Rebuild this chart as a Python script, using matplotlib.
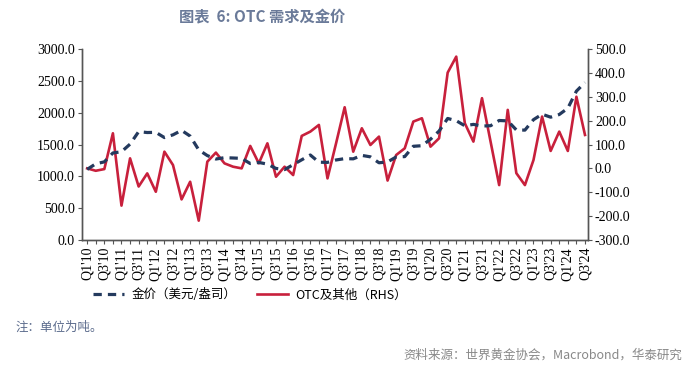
import matplotlib
matplotlib.use('Agg')
import matplotlib.pyplot as plt
import numpy as np

# quarters Q1'10 .. Q3'24
quarters = ["Q%d'%02d" % (q, y) for y in range(10, 25) for q in range(1, 5)][:59]

# gold price, USD/oz (left axis)
gold = [1109, 1197, 1227, 1367, 1386, 1506, 1702, 1688, 1691, 1609,
        1652, 1722, 1632, 1415, 1326, 1272, 1293, 1288, 1282, 1201,
        1218, 1192, 1124, 1106, 1183, 1260, 1335, 1222, 1219, 1257,
        1278, 1275, 1329, 1306, 1213, 1226, 1304, 1310, 1472, 1481,
        1583, 1711, 1909, 1874, 1794, 1816, 1790, 1795, 1877, 1871,
        1729, 1726, 1890, 1976, 1929, 1971, 2070, 2338, 2474]

# OTC and other, tonnes (right axis)
otc = [0, -10, -3, 147, -156, 42, -76, -21, -98, 70,
       14, -130, -56, -219, 28, 66, 21, 7, 0, 94,
       21, 105, -35, 7, -28, 136, 154, 182, -42, 105,
       256, 70, 168, 98, 133, -51, 56, 84, 196, 210,
       91, 126, 401, 468, 189, 112, 294, 112, -70, 245,
       -20, -70, 35, 217, 73, 154, 73, 300, 140]

navy = '#243a5e'
red = '#c8203c'
serif = 'Liberation Serif'
cjk = ['Noto Sans CJK SC', 'DejaVu Sans']

fig = plt.figure(figsize=(7, 3.76), dpi=100)
ax = fig.add_axes([82/700, 1-240/376, (588-82)/700, (240-49)/376])
ax2 = ax.twinx()

x = np.arange(len(quarters))
l1, = ax.plot(x, gold, color=navy, lw=2.3, dashes=(2.6, 1.9))
l2, = ax2.plot(x, otc, color=red, lw=1.9)
ax.set_zorder(ax2.get_zorder() + 1)
ax.patch.set_visible(False)

ax.set_xlim(-0.6, 58.35)
ax.set_ylim(0, 3000)
ax2.set_ylim(-300, 500)
ax.set_yticks(np.arange(0, 3001, 500))
ax.set_yticklabels(['%.1f' % v for v in np.arange(0, 3001, 500)], family=serif, fontsize=10)
ax2.set_yticks(np.arange(-300, 501, 100))
ax2.set_yticklabels(['%.1f' % v for v in np.arange(-300, 501, 100)], family=serif, fontsize=10)
ax.set_xticks(x)
ax.set_xticklabels([q if i % 2 == 0 else '' for i, q in enumerate(quarters)],
                   rotation=90, family=serif, fontsize=10)

for a in (ax, ax2):
    a.spines['top'].set_visible(False)
    for s in ('left', 'right', 'bottom'):
        a.spines[s].set_color('#555555')
        a.spines[s].set_linewidth(1.0)
    a.tick_params(colors='#555555', labelcolor='black', length=3, width=0.8, pad=2)

leg = fig.legend([l1, l2], ['金价（美元/盎司）', 'OTC及其他（RHS）'], loc='center',
                 bbox_to_anchor=(250/700, 1-295/376), ncol=2, frameon=False,
                 prop={'family': cjk, 'size': 9}, handlelength=2.5,
                 columnspacing=1.6, handletextpad=0.6)

fig.text(262/700, 1-17/376, '图表  6: OTC 需求及金价', ha='center', va='center',
         family=cjk, fontsize=11, color='#6a7a99', fontweight='bold')
fig.text(15/700, 1-327/376, '注：单位为吨。', ha='left', va='center',
         family=cjk, fontsize=9, color='#5b6b8c')
fig.text(682/700, 1-355/376, '资料来源：世界黄金协会，Macrobond，华泰研究', ha='right',
         va='center', family=cjk, fontsize=9, color='#888888')

fig.savefig('out.png', dpi=100)
